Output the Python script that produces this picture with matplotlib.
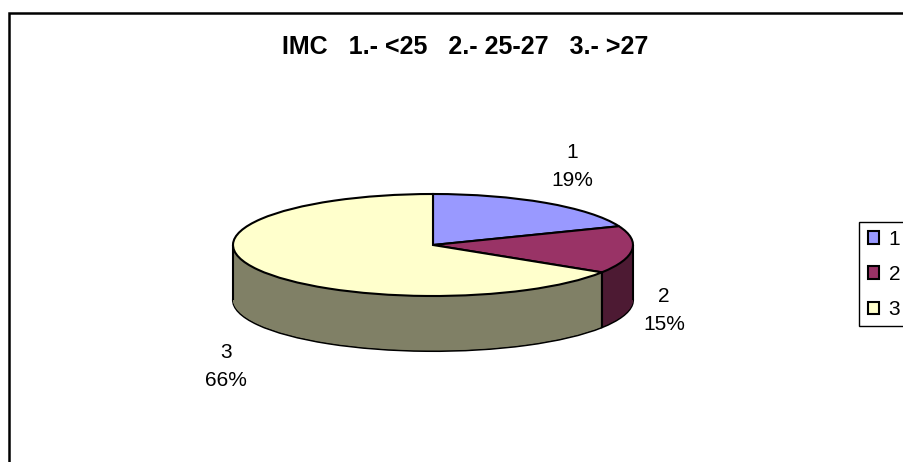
import numpy as np
import matplotlib
matplotlib.use("Agg")
import matplotlib.pyplot as plt
from matplotlib.patches import Rectangle, Patch

plt.rcParams['font.family'] = ['Liberation Sans', 'DejaVu Sans']

# --- data ---
categories = ["1", "2", "3"]
values = [19, 15, 66]
title = "IMC   1.- <25   2.- 25-27   3.- >27"

# --- style ---
top_colors = ["#9999FF", "#993366", "#FFFFCC"]
side_colors = ["#4C4C80", "#4D1A33", "#808066"]
W, H = 904, 462
cx, cy = 433, 245          # pie centre in pixels
rx, ry = 200, 51           # ellipse radii in pixels
depth_px = 55              # thickness of the disc
label_pos_px = [(572, 167), (664, 310), (226, 367)]

fig = plt.figure(figsize=(W / 100, H / 100), dpi=100)
fig.patch.set_facecolor("white")

ax = fig.add_axes([0, 0, 1, 1])
xlim = (-cx / rx, (W - cx) / rx)
ylim = (-(H - cy) / ry, cy / ry)
depth = depth_px / ry

total = float(sum(values))

# side walls: stacked copies of the pie, darker shades, shifted downwards
levels = np.linspace(depth, 0, int(depth_px * 2) + 1)
for i, d in enumerate(levels):
    bottom = i == 0
    ax.pie(values, colors=side_colors, startangle=90, counterclock=False,
           radius=1, center=(0, -d),
           wedgeprops=dict(edgecolor="black" if bottom else "none",
                           linewidth=1.5 if bottom else 0,
                           antialiased=True))

# vertical edges: silhouette and slice boundaries on the front half
bounds = 90 - 360 * np.cumsum([0] + values) / total
edge_angles = [0.0, 180.0] + [b for b in bounds if np.sin(np.radians(b)) < -1e-6]
for a in edge_angles:
    x = np.cos(np.radians(a))
    y = np.sin(np.radians(a))
    ax.plot([x, x], [y, y - depth], color="black", lw=1.5, solid_capstyle="butt")

# top face
wedges, _ = ax.pie(values, colors=top_colors, startangle=90, counterclock=False,
                   radius=1, center=(0, 0),
                   wedgeprops=dict(edgecolor="black", linewidth=1.5))

ax.set_aspect("auto")
ax.set_xlim(*xlim)
ax.set_ylim(*ylim)
ax.axis("off")

# data labels
for cat, v, (px, py) in zip(categories, values, label_pos_px):
    pct = int(round(100 * v / total))
    ax.text((px - cx) / rx, (cy - py) / ry, f"{cat}\n{pct}%",
            ha="center", va="center", fontsize=15, linespacing=1.6,
            color="black")

# title
fig.text(465 / W, 1 - 47 / H, title, ha="center", va="center",
         fontsize=18, fontweight="bold", color="black")

# chart area border
fig.add_artist(Rectangle((8.5 / W, -0.2), 1.5, 1.2 - 12.5 / H,
                         transform=fig.transFigure, fill=False,
                         edgecolor="black", linewidth=1.8))

# legend box (runs past the right edge of the chart area)
leg_left, leg_top, leg_bottom = 859.5, 221.5, 325.5
fig.add_artist(Rectangle((leg_left / W, 1 - leg_bottom / H), 100 / W,
                         (leg_bottom - leg_top) / H,
                         transform=fig.transFigure, fill=True,
                         facecolor="white", edgecolor="black", linewidth=1.0,
                         zorder=4))

handles = [Patch(facecolor=c, edgecolor="black", linewidth=1.5) for c in top_colors]
leg = fig.legend(handles, categories, loc="upper left",
                 bbox_to_anchor=(859 / W, 1 - 221 / H),
                 bbox_transform=fig.transFigure, borderaxespad=0,
                 fontsize=15, frameon=False,
                 handlelength=0.55, handleheight=0.55, handletextpad=0.45,
                 labelspacing=0.78, borderpad=0.42)
leg.set_zorder(5)

fig.savefig("out.png", dpi=100)
